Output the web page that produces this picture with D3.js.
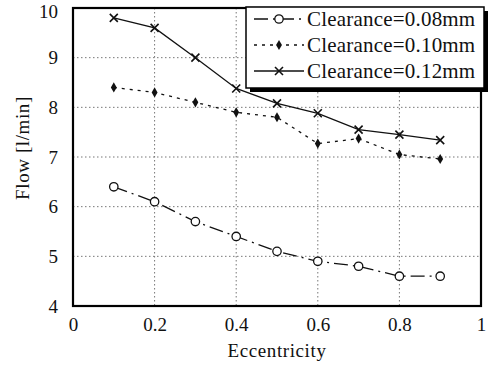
<!DOCTYPE html>
<html>
<head>
<meta charset="utf-8">
<script src="https://cdn.jsdelivr.net/npm/d3@7"></script>
<style>
  body { margin: 0; background: #fff; }
  svg text { font-family: "Liberation Serif", "Times New Roman", serif !important; fill: #111; }
</style>
</head>
<body>
<svg width="492" height="373"></svg>
<script>
// data
var ecc = [0.1, 0.2, 0.3, 0.4, 0.5, 0.6, 0.7, 0.8, 0.9];
var flow008 = [6.4, 6.1, 5.7, 5.4, 5.1, 4.9, 4.8, 4.6, 4.6];
var flow010 = [8.4, 8.3, 8.1, 7.9, 7.8, 7.27, 7.37, 7.05, 6.96];
var flow012 = [9.8, 9.6, 9.0, 8.38, 8.08, 7.88, 7.55, 7.45, 7.34];
var seriesNames = ["Clearance=0.08mm", "Clearance=0.10mm", "Clearance=0.12mm"];
var xTicks = [0, 0.2, 0.4, 0.6, 0.8, 1];
var yTicks = [4, 5, 6, 7, 8, 9, 10];

var svg = d3.select("svg");
var plotL = 73, plotR = 481, plotT = 8, plotB = 306;

var x = d3.scaleLinear().domain([0, 1]).range([plotL, plotR]);
var y = d3.scaleLinear().domain([4, 10]).range([plotB, plotT]);

// GRID
var grid = svg.append("g").attr("class", "grid");
grid.selectAll(".vg").data(xTicks.slice(1, -1)).enter().append("line")
    .attr("x1", function(d) { return x(d); })
    .attr("x2", function(d) { return x(d); })
    .attr("y1", plotT).attr("y2", plotB)
    .attr("stroke", "#777").attr("stroke-width", 1)
    .attr("stroke-dasharray", "1.5,2.5");
grid.selectAll(".hg").data(yTicks.slice(1, -1)).enter().append("line")
    .attr("y1", function(d) { return y(d); })
    .attr("y2", function(d) { return y(d); })
    .attr("x1", plotL).attr("x2", plotR)
    .attr("stroke", "#777").attr("stroke-width", 1)
    .attr("stroke-dasharray", "1.5,2.5");

// AXES (tick labels only, frame drawn separately)
var xAxis = svg.append("g")
    .attr("transform", "translate(0," + plotB + ")")
    .call(d3.axisBottom(x).tickValues(xTicks).tickSize(0).tickPadding(12)
          .tickFormat(function(d) { return d === 0 || d === 1 ? d : d3.format(".1f")(d); }));
xAxis.select(".domain").remove();
xAxis.attr("font-family", null);
xAxis.selectAll("text").style("font-size", "19px").attr("fill", "#111");

var yAxis = svg.append("g")
    .attr("transform", "translate(" + plotL + ",0)")
    .call(d3.axisLeft(y).tickValues(yTicks).tickSize(0).tickPadding(15)
          .tickFormat(d3.format("d")));
yAxis.select(".domain").remove();
yAxis.attr("font-family", null);
yAxis.selectAll("text").style("font-size", "19px").attr("fill", "#111");
yAxis.selectAll(".tick").filter(function(d) { return d === 10; })
    .select("text").attr("dy", "0.5em");

// frame
svg.append("rect")
    .attr("x", plotL).attr("y", plotT)
    .attr("width", plotR - plotL).attr("height", plotB - plotT)
    .attr("fill", "none").attr("stroke", "#000").attr("stroke-width", 2.2);

// axis titles
svg.append("text")
    .attr("x", (plotL + plotR) / 2).attr("y", 357)
    .attr("text-anchor", "middle")
    .style("font-size", "19px")
    .style("letter-spacing", "0.6px")
    .text("Eccentricity");
svg.append("text")
    .attr("transform", "translate(29," + 148 + ") rotate(-90)")
    .attr("text-anchor", "middle")
    .style("font-size", "19px")
    .style("letter-spacing", "0.6px")
    .text("Flow [l/min]");

// SERIES
var series = [
  { vals: flow008, dash: "14,5,2,5", marker: "circle" },
  { vals: flow010, dash: "3,5", marker: "diamond" },
  { vals: flow012, dash: null, marker: "cross" }
];

var line = d3.line()
    .x(function(d) { return x(d[0]); })
    .y(function(d) { return y(d[1]); });

function drawMarker(g, type, cx, cy) {
  if (type === "circle") {
    g.append("circle").attr("cx", cx).attr("cy", cy).attr("r", 4.2)
      .attr("fill", "#fff").attr("stroke", "#111").attr("stroke-width", 1.3);
  } else if (type === "diamond") {
    g.append("path")
      .attr("d", d3.symbol().type(d3.symbolDiamond).size(30)())
      .attr("transform", "translate(" + cx + "," + cy + ")")
      .attr("fill", "#111");
  } else {
    g.append("path")
      .attr("d", "M-4,-4L4,4M-4,4L4,-4")
      .attr("transform", "translate(" + cx + "," + cy + ")")
      .attr("stroke", "#111").attr("stroke-width", 1.6);
  }
}

series.forEach(function(s) {
  var pts = ecc.map(function(e, i) { return [e, s.vals[i]]; });
  var g = svg.append("g");
  g.append("path").datum(pts)
    .attr("d", line)
    .attr("fill", "none").attr("stroke", "#111").attr("stroke-width", 1.3)
    .attr("stroke-dasharray", s.dash);
  pts.forEach(function(p) { drawMarker(g, s.marker, x(p[0]), y(p[1])); });
});

// LEGEND
var lg = svg.append("g");
var lx = 246, ly = 7, lw = 238, lh = 81;
lg.append("rect").attr("x", lx + 4).attr("y", ly + 4)
  .attr("width", lw).attr("height", lh).attr("fill", "#000");
lg.append("rect").attr("x", lx).attr("y", ly)
  .attr("width", lw).attr("height", lh)
  .attr("fill", "#fff").attr("stroke", "#000").attr("stroke-width", 1.5);

var rowY = [19, 45, 71];
series.forEach(function(s, i) {
  lg.append("line")
    .attr("x1", lx + 8).attr("x2", lx + 58)
    .attr("y1", rowY[i]).attr("y2", rowY[i])
    .attr("stroke", "#111").attr("stroke-width", 1.3)
    .attr("stroke-dasharray", s.dash);
  drawMarker(lg, s.marker, lx + 33, rowY[i]);
  lg.append("text")
    .attr("x", lx + 61).attr("y", rowY[i] + 7)
    .style("font-size", "21px")
    .style("letter-spacing", "0.2px")
    .text(seriesNames[i]);
});
</script>
</body>
</html>
